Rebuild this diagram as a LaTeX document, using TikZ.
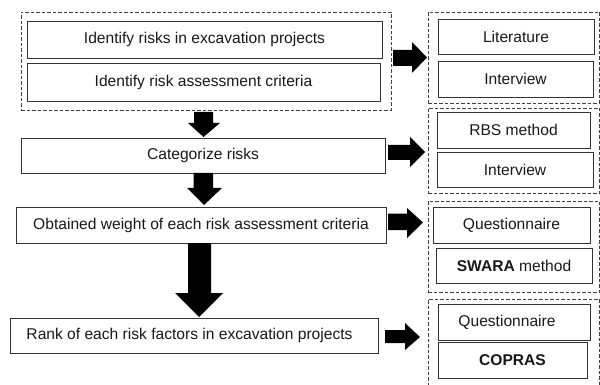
\documentclass[tikz,border=0pt]{standalone}
\usepackage{fontspec}
\setmainfont{Liberation Sans}
\begin{document}
\begin{tikzpicture}[x=1pt,y=-1pt,
  box/.style={draw=black!80, line width=0.8pt, fill=white, inner sep=0pt, font=\fontsize{15.6}{18}\selectfont, text=black!90},
  grp/.style={draw=black!75, line width=0.8pt, dash pattern=on 3.5pt off 2pt, inner sep=0pt},
  blk/.style={fill=black, draw=none}]
\useasboundingbox (0,0) rectangle (600,385);
\begin{scope}
\clip (0,0) rectangle (600,385);
% dashed groups
\node[grp, minimum width=370pt, minimum height=98pt] (gA) at (206,61) {};
\node[grp, minimum width=171.5pt, minimum height=91pt] (gR1) at (513.75,57.5) {};
\node[grp, minimum width=171.5pt, minimum height=85pt] (gR2) at (513.75,150.5) {};
\node[grp, minimum width=171.5pt, minimum height=91pt] (gR3) at (513.75,246.5) {};
\node[grp, minimum width=171.5pt, minimum height=96pt] (gR4) at (513.75,347) {};
\end{scope}
% left boxes
\node[box, minimum width=355pt, minimum height=37pt] (b1) at (204.5,39.5) {Identify risks in excavation projects};
\node[box, minimum width=353pt, minimum height=38pt] (b2) at (203.5,82) {Identify risk assessment criteria};
\node[box, minimum width=364pt, minimum height=35pt] (cat) at (203,155.5) {Categorize risks};
\node[box, minimum width=370pt, minimum height=36pt] (obt) at (201,225) {Obtained weight of each risk assessment criteria};
\node[box, minimum width=368pt, minimum height=35pt] (rank) at (194,335.5) {\hspace*{-9pt}Rank of each risk factors in excavation projects};
% right boxes
\node[box, minimum width=156pt, minimum height=35pt] (lit) at (516,36.5) {Literature};
\node[box, minimum width=155pt, minimum height=36pt] (int1) at (515.5,79) {Interview};
\node[box, minimum width=153pt, minimum height=36pt] (rbs) at (513.5,130) {RBS method};
\node[box, minimum width=156pt, minimum height=35pt] (int2) at (515,169.5) {Interview};
\node[box, minimum width=157pt, minimum height=36pt] (q1) at (511.5,225) {Questionnaire};
\node[box, minimum width=156pt, minimum height=35pt] (sw) at (514,265.5) {\textbf{SWARA} method};
\node[box, minimum width=152pt, minimum height=36pt] (q2) at (514,322) {\hspace*{-14pt}Questionnaire};
\node[box, minimum width=149pt, minimum height=36pt] (cop) at (512.5,360) {\textbf{COPRAS}};
% down arrows
\fill[blk] (194,112) -- (213,112) -- (213,123) -- (220,123) -- (203.5,137) -- (188,123) -- (194,123) -- cycle;
\fill[blk] (193.5,173) -- (213,173) -- (213,188) -- (222,188) -- (204,205) -- (187,188) -- (193.5,188) -- cycle;
\fill[blk] (188,243) -- (211,243) -- (211,293) -- (223,293) -- (199,317) -- (175,293) -- (188,293) -- cycle;
% right arrows
\fill[blk] (393,50) -- (412,50) -- (412,42) -- (427,57.5) -- (412,73) -- (412,66) -- (393,66) -- cycle;
\fill[blk] (388,145) -- (410,145) -- (410,137) -- (425,152) -- (410,167) -- (410,160) -- (388,160) -- cycle;
\fill[blk] (388,213.5) -- (407,213.5) -- (407,208) -- (423,222.5) -- (407,238) -- (407,230) -- (388,230) -- cycle;
\fill[blk] (385,330) -- (405,330) -- (405,323) -- (420,337) -- (405,350) -- (405,343) -- (385,343) -- cycle;
\end{tikzpicture}
\end{document}
